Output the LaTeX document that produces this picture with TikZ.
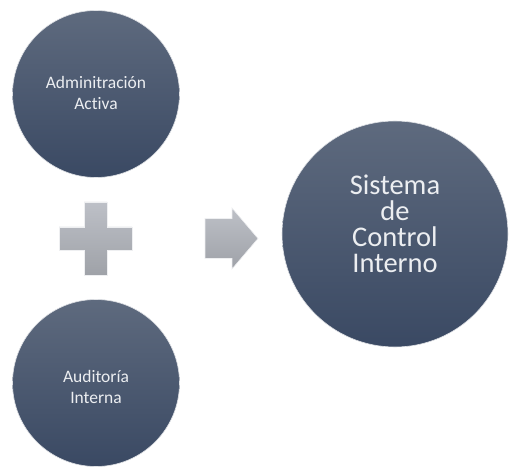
\documentclass[tikz,border=0pt]{standalone}
\usepackage{fontspec}
\setmainfont{Carlito}[Ligatures=NoCommon]
\usetikzlibrary{positioning}
\definecolor{bubbletop}{HTML}{5E6A7E}
\definecolor{bubblebottom}{HTML}{3A4963}
\definecolor{bubbletext}{HTML}{ECEEF1}
\definecolor{signtop}{HTML}{BDC0C7}
\definecolor{signbottom}{HTML}{9FA2A8}

\begin{document}
\begin{tikzpicture}[x=1pt,y=-1pt,
    bubble/.style={circle,draw=white!80!bubbletop,line width=0.6pt,top color=bubbletop,bottom color=bubblebottom,inner sep=0pt},
    bubbletxt/.style={text=bubbletext,align=center,inner sep=0pt},
    sign/.style={draw=white!75!signtop,line width=0.6pt,top color=signtop,bottom color=signbottom}]
    \pgfmathsetmacro{\smallradius}{83.5}
    \pgfmathsetmacro{\bigradius}{113}
    \pgfmathsetmacro{\plushalf}{36.5}
    \pgfmathsetmacro{\plusarm}{11.5}
    \providecommand{\smallfontsize}{\fontsize{17.5}{20.5}\selectfont}
    \providecommand{\bigfontsize}{\fontsize{28.5}{26}\selectfont}
    \useasboundingbox (0,0) rectangle (511,470);
    \node[bubble,minimum size=2*\smallradius*1pt] (admin) at (96,94) {};
    \node[bubble,minimum size=2*\smallradius*1pt] (audit) at (96,383) {};
    \node[bubble,minimum size=2*\bigradius*1pt] (sci) at (395,234) {};
    \node[bubbletxt,font=\smallfontsize] (admintext) at ([yshift=1pt]admin.center) {Adminitración\\Activa};
    \node[bubbletxt,font=\smallfontsize] (audittext) at ([yshift=-4pt]audit.center) {Auditoría\\Interna};
    \node[bubbletxt,font=\bigfontsize] (scitext) at ([yshift=10pt]sci.center) {Sistema\\de\\Control\\Interno};
    % plus sign and arrow between the bubbles
    \coordinate (plus) at (95.5,238.5);
    \coordinate (arrow) at (205,238.5);
    \draw[sign] (plus) ++(-\plusarm,-\plushalf) -- ++(2*\plusarm,0) -- ++(0,\plushalf-\plusarm)
        -- ++(\plushalf-\plusarm,0) -- ++(0,2*\plusarm) -- ++(-\plushalf+\plusarm,0)
        -- ++(0,\plushalf-\plusarm) -- ++(-2*\plusarm,0) -- ++(0,-\plushalf+\plusarm)
        -- ++(-\plushalf+\plusarm,0) -- ++(0,-2*\plusarm) -- ++(\plushalf-\plusarm,0) -- cycle;
    \draw[sign] (arrow) ++(0,-20) -- ++(27,0) -- ++(0,-10.5) -- ++(26,30.5)
        -- ++(-26,30.5) -- ++(0,-10.5) -- ++(-27,0) -- cycle;
\end{tikzpicture}
\end{document}
